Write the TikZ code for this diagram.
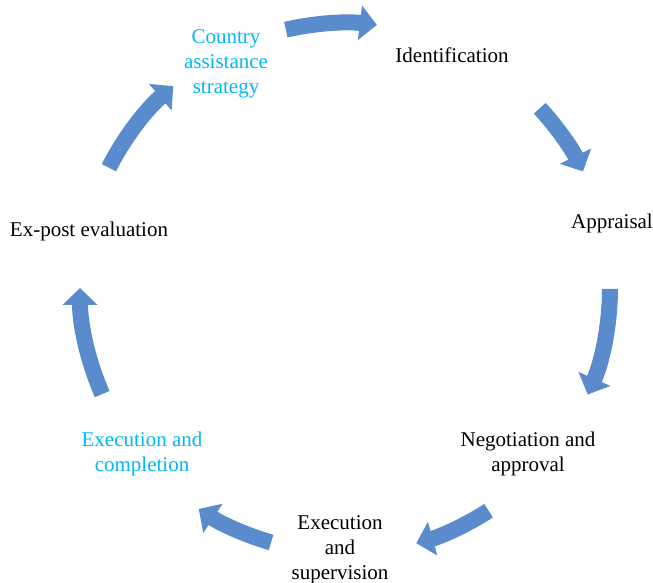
\documentclass[tikz,border=0pt]{standalone}
\usepackage{fontspec}
\setmainfont{Liberation Serif}
\usetikzlibrary{arrows.meta,calc}
\definecolor{arrowblue}{RGB}{90,140,205}
\definecolor{labelcyan}{RGB}{0,185,240}
\tikzset{
  lbl/.style={anchor=north, inner sep=0pt, align=center,
    font=\fontsize{21}{25}\selectfont, execute at begin node=\strut},
  cyanlbl/.style={lbl, text=labelcyan},
  blockarrow/.style={draw=arrowblue, line width=16pt,
    -{Triangle[width=34pt,length=17pt]}},
}
\begin{document}
\begin{tikzpicture}[x=1pt,y=1pt]
\useasboundingbox (0,0) rectangle (653,583);
\coordinate (C) at (345,295);
% labels
\node[cyanlbl] (cas) at (226,553.5) {Country\\assistance\\strategy};
\node[lbl] (ident) at (452,538.5) {Identification};
\node[lbl] (appr) at (612,372.5) {Appraisal};
\node[lbl] (nego) at (528,151.5) {Negotiation and\\approval};
\node[lbl] (exs) at (340,67.5) {Execution\\and\\supervision};
\node[cyanlbl] (exc) at (142,151.5) {Execution and\\completion};
\node[lbl] (expost) at (89,364.5) {Ex-post evaluation};
% arrow tails
\coordinate (a1) at ($(C)+(102.9:265)$);
\coordinate (a2) at ($(C)+(42.7:265)$);
\coordinate (a3) at ($(C)+(-0.2:265)$);
\coordinate (a4) at ($(C)+(-57.2:265)$);
\coordinate (a5) at ($(C)+(-106.2:265)$);
\coordinate (a6) at ($(C)+(-156.4:265)$);
\coordinate (a7) at ($(C)+(153:265)$);
\draw[blockarrow] (a1) arc[start angle=102.9, end angle=83.1, radius=265];
\draw[blockarrow] (a2) arc[start angle=42.7, end angle=26.1, radius=265];
\draw[blockarrow] (a3) arc[start angle=-0.2, end angle=-23.7, radius=265];
\draw[blockarrow] (a4) arc[start angle=-57.2, end angle=-74.4, radius=265];
\draw[blockarrow] (a5) arc[start angle=-106.2, end angle=-123.5, radius=265];
\draw[blockarrow] (a6) arc[start angle=-156.4, end angle=-180, radius=265];
\draw[blockarrow] (a7) arc[start angle=153, end angle=130.4, radius=265];
\end{tikzpicture}
\end{document}
